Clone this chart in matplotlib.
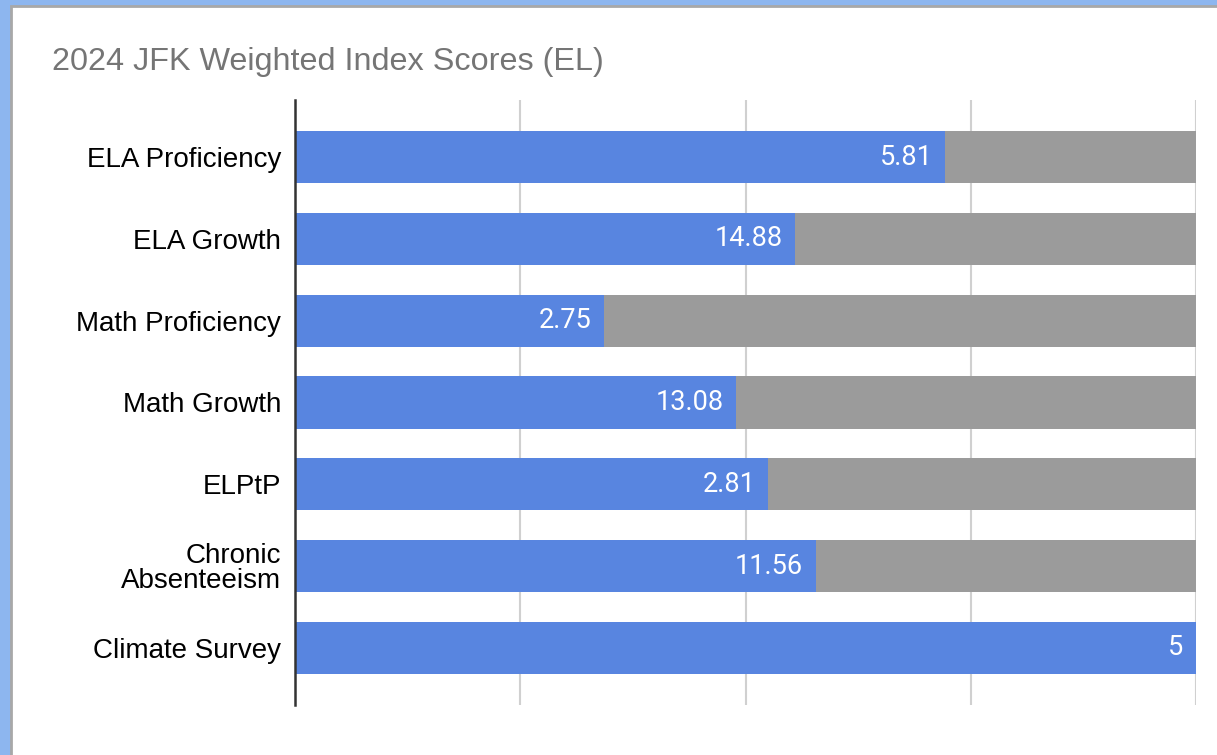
import matplotlib.pyplot as plt
from matplotlib.patches import Rectangle

categories = ['ELA Proficiency', 'ELA Growth', 'Math Proficiency', 'Math Growth',
              'ELPtP', 'Chronic\nAbsenteeism', 'Climate Survey']
earned = [5.81, 14.88, 2.75, 13.08, 2.81, 11.56, 5]
remaining = [2.24, 11.93, 5.27, 13.64, 2.54, 8.45, 0]
labels = ['5.81', '14.88', '2.75', '13.08', '2.81', '11.56', '5']

blue = '#5885e0'
grey = '#9b9b9b'

fig = plt.figure(figsize=(12.17, 7.55), dpi=100)
fig.patch.set_facecolor('#8db6ef')

# white card with grey edge (screenshot frame)
W, H = 1217, 755
fig.patches.append(Rectangle((11 / W, -0.01), 1.02, 1.01 - 6 / H, transform=fig.transFigure,
                             facecolor='white', edgecolor='#a8a8a8', linewidth=2,
                             zorder=-5))

ax = fig.add_axes([295 / W, 1 - 705 / H, 901 / W, 605 / H])
ax.set_facecolor('none')

totals = [e + r for e, r in zip(earned, remaining)]
frac_e = [e / t for e, t in zip(earned, totals)]
frac_r = [r / t for r, t in zip(remaining, totals)]
ypos = list(range(len(categories)))

ax.barh(ypos, frac_e, height=0.64, color=blue, zorder=3)
ax.barh(ypos, frac_r, left=frac_e, height=0.64, color=grey, zorder=3)

for y, f, lab in zip(ypos, frac_e, labels):
    ax.annotate(lab, (f, y), xytext=(-9, 0), textcoords='offset points',
                ha='right', va='center', color='white', fontsize=19.5,
                family='Roboto', zorder=4)

ax.set_xlim(0, 1)
ax.set_ylim(len(categories) - 1 + 0.7, -0.7)
ax.set_xticks([0, 0.25, 0.5, 0.75, 1.0])
ax.set_xticklabels([])
ax.grid(axis='x', color='#d0d0d0', linewidth=1.5, zorder=0)
ax.tick_params(axis='both', length=0)
ax.tick_params(axis='y', pad=10)
ax.set_yticks(ypos)
ax.set_yticklabels(categories, fontsize=20, family='Liberation Sans',
                   linespacing=0.95)
for s in ['top', 'right', 'bottom']:
    ax.spines[s].set_visible(False)
ax.spines['left'].set_color('#333333')
ax.spines['left'].set_linewidth(1.8)
ax.spines['left'].set_zorder(5)

fig.text(52 / W, 1 - 62 / H, '2024 JFK Weighted Index Scores (EL)', fontsize=23.3,
         family='Liberation Sans', color='#757575', ha='left', va='center')

fig.savefig('out.png', dpi=100, facecolor=fig.get_facecolor())
